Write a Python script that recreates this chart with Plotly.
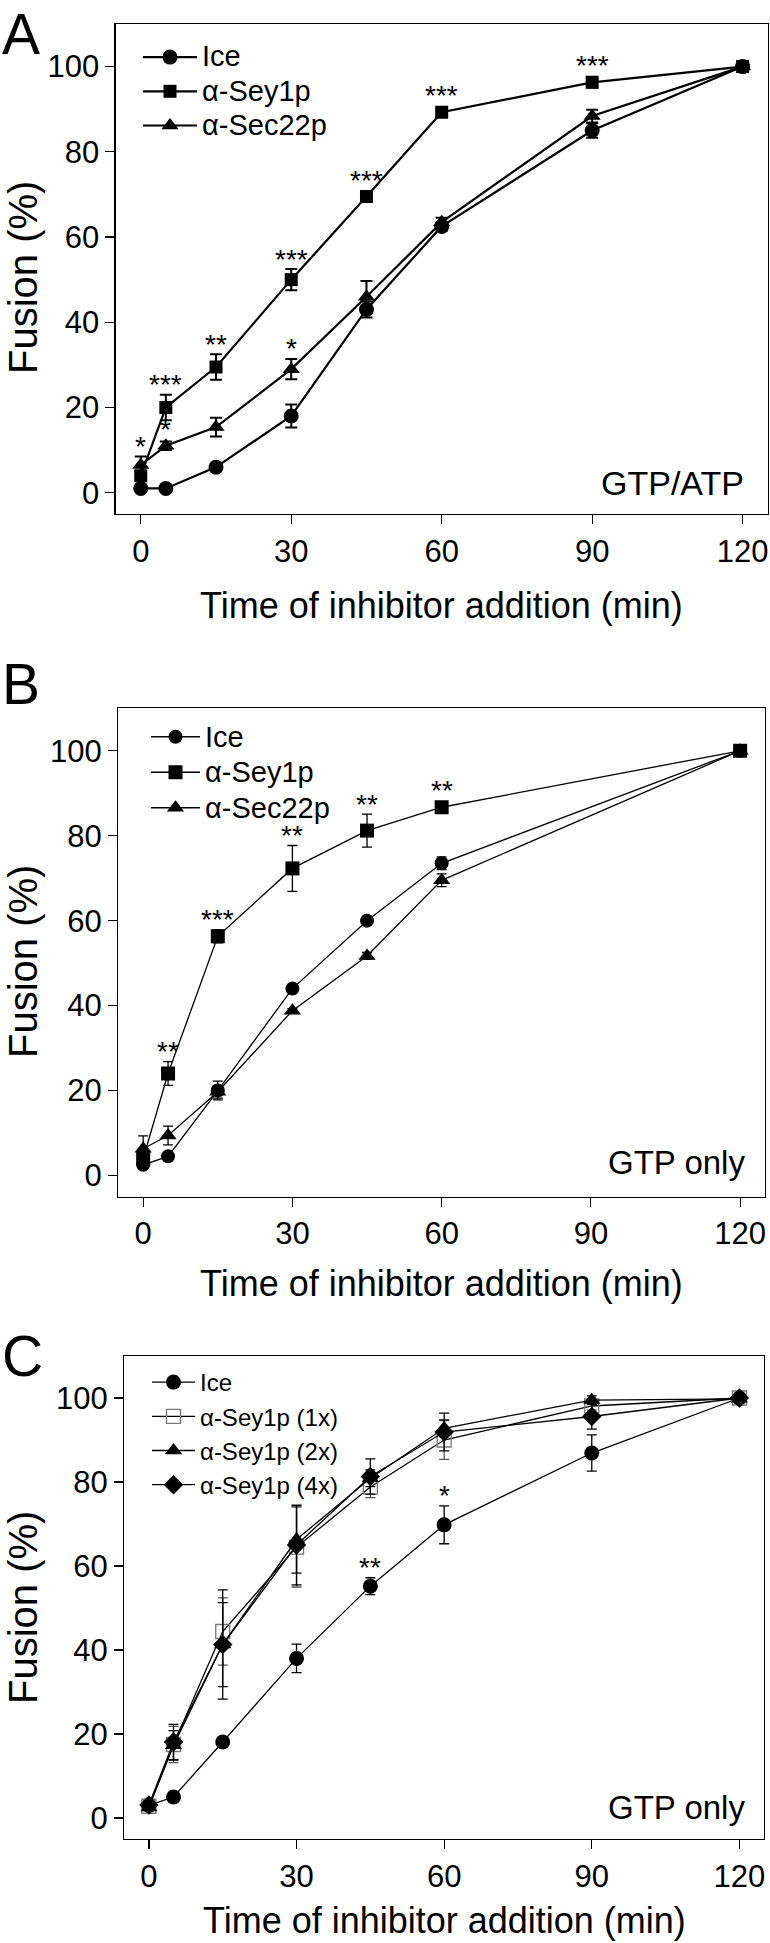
import plotly.graph_objects as go

W, H = 770, 1943
FONT = "Liberation Sans, Arial, Helvetica, sans-serif"

# ---------------- data ----------------
times_a = [0, 5, 15, 30, 45, 60, 90, 120]
a_ice = [1, 1, 6, 18, 43, 62.5, 85, 100]
a_ice_err = [0.5, 0.5, 0.5, 2.7, 1.9, 1.0, 1.7, 0.5]
a_sey = [4, 20, 29.5, 50, 69.5, 89.3, 96.3, 100]
a_sey_err = [1, 3, 3, 2.5, 0.5, 0.5, 1.2, 0.5]
a_sec = [6.5, 11, 15.4, 29, 46, 63.5, 88.4, 100]
a_sec_err = [2, 1, 2.2, 2.4, 3.7, 1, 1.5, 0.5]

times_b = [0, 5, 15, 30, 45, 60, 120]
b_ice = [2.5, 4.5, 20, 44, 60, 73.5, 100]
b_ice_err = [0.5, 0.5, 2.2, 0.5, 0.5, 1.5, 0.5]
b_sey = [4, 24, 56.3, 72.3, 81.2, 86.7, 100]
b_sey_err = [1, 2.8, 1.5, 5.4, 3.9, 0.5, 0.5]
b_sec = [6.3, 9.4, 19.7, 38.8, 51.7, 69.5, 100]
b_sec_err = [3, 2.2, 1.5, 0.5, 0.8, 1.5, 0.5]

times_c = [0, 5, 15, 30, 45, 60, 90, 120]
c_ice = [3, 5, 18.1, 38, 55.2, 69.8, 86.9, 100]
c_ice_err = [0.5, 0.5, 0.5, 3.4, 2, 4.5, 4.3, 0.5]
c_1x = [2.8, 17.5, 44.4, 64.5, 78.8, 90, 98.1, 100]
c_1x_err = [0.5, 4.3, 8, 9.5, 2.5, 4.6, 1, 0.5]
c_2x = [2.5, 17.3, 41.3, 66.3, 80.9, 92.8, 99.5, 99.8]
c_2x_err = [0.5, 3.5, 10, 8, 2, 2, 1, 0.5]
c_4x = [3.1, 18.1, 41.3, 65, 81.3, 91.9, 95.6, 100]
c_4x_err = [0.5, 4.2, 13, 9.5, 4.2, 4.5, 3, 0.5]

x_ticks = [0, 30, 60, 90, 120]
y_ticks = [0, 20, 40, 60, 80, 100]

# significance marks: (series key, index, label)
sig_a = [("sec", 0, "*"), ("sey", 1, "***"), ("sec", 1, "*"), ("sey", 2, "**"),
         ("sey", 3, "***"), ("sec", 3, "*"), ("sey", 4, "***"), ("sey", 5, "***"),
         ("sey", 6, "***")]
sig_b = [("sey", 1, "**"), ("sey", 2, "***"), ("sey", 3, "**"), ("sey", 4, "**"),
         ("sey", 5, "**")]
sig_c = [("ice", 4, "**"), ("ice", 5, "*")]

# ---------------- layout helpers ----------------
def px_x(x):
    return x / W

def px_y(y):
    return 1 - y / H

panels = {
    # name: (left, right, top, bottom) in px
    "A": (115.7, 767.7, 24, 514),
    "B": (118.3, 765.0, 708.3, 1196.7),
    "C": (124.3, 764.0, 1356, 1839),
}

fig = go.Figure()

def big(name, size):
    return '<span style="font-size:%dpx">%s</span>' % (size, name)

def add_series(xref, yref, legend, name, t, v, e, symbol, size, lw, color="black",
               ecolor="black", ethick=1.5, ewidth=6):
    is_open = "open" in symbol
    fig.add_trace(go.Scatter(
        x=t, y=v, name=name, mode="lines+markers",
        xaxis=xref, yaxis=yref, legend=legend,
        line=dict(color="black", width=lw),
        marker=dict(symbol=symbol, size=size, color=color,
                    line=dict(color=color if is_open else "black", width=1.3 if is_open else 0)),
        error_y=dict(type="data", array=e, visible=True, color=ecolor,
                     thickness=ethick, width=ewidth),
    ))

# Panel A
add_series("x", "y", "legend", big("Ice", 29), times_a, a_ice, a_ice_err, "circle", 15, 2.2, ethick=2)
add_series("x", "y", "legend", big("α-Sey1p", 29), times_a, a_sey, a_sey_err, "square", 13, 2.2, ethick=2)
add_series("x", "y", "legend", big("α-Sec22p", 29), times_a, a_sec, a_sec_err, "triangle-up", 15, 2.2, ethick=2)
# Panel B
add_series("x2", "y2", "legend2", big("Ice", 29), times_b, b_ice, b_ice_err, "circle", 14, 1.3, ethick=1.3, ewidth=5)
add_series("x2", "y2", "legend2", big("α-Sey1p", 29), times_b, b_sey, b_sey_err, "square", 14, 1.3, ethick=1.3, ewidth=5)
add_series("x2", "y2", "legend2", big("α-Sec22p", 29), times_b, b_sec, b_sec_err, "triangle-up", 15, 1.3, ethick=1.3, ewidth=5)
# Panel C
add_series("x3", "y3", "legend3", "Ice", times_c, c_ice, c_ice_err, "circle", 15, 1.3, ethick=1.3, ewidth=5)
add_series("x3", "y3", "legend3", "α-Sey1p (1x)", times_c, c_1x, c_1x_err, "square-open", 14, 1.3,
           color="#777777", ecolor="#555555", ethick=1.3, ewidth=5)
add_series("x3", "y3", "legend3", "α-Sey1p (2x)", times_c, c_2x, c_2x_err, "triangle-up", 15, 1.3, ethick=1.3, ewidth=5)
add_series("x3", "y3", "legend3", "α-Sey1p (4x)", times_c, c_4x, c_4x_err, "diamond", 15, 1.3, ethick=1.3, ewidth=5)

axis_common = dict(
    showline=True, linecolor="black", linewidth=1.3, mirror=True,
    ticks="outside", ticklen=9, tickwidth=1.2, tickcolor="black",
    showgrid=False, zeroline=False,
    tickfont=dict(family=FONT, size=31, color="black"),
)

layout_axes = {}
for i, key in enumerate(["A", "B", "C"]):
    l, r, t, b = panels[key]
    sfx = "" if i == 0 else str(i + 1)
    layout_axes["xaxis" + sfx] = dict(axis_common, domain=[px_x(l), px_x(r)], range=[-5, 125],
                                      tickvals=x_ticks, anchor="y" + sfx)
    layout_axes["yaxis" + sfx] = dict(axis_common, domain=[px_y(b), px_y(t)], range=[-5, 110],
                                      tickvals=y_ticks, anchor="x" + sfx)

legend_common = dict(bgcolor="rgba(0,0,0,0)", borderwidth=0, xanchor="left", yanchor="top",
                     tracegroupgap=0)
fig.update_layout(
    width=W, height=H, margin=dict(l=0, r=0, t=0, b=0),
    paper_bgcolor="white", plot_bgcolor="white",
    showlegend=True,
    legend=dict(legend_common, x=px_x(138), y=px_y(35), itemwidth=54,
                font=dict(family=FONT, size=24, color="black")),
    legend2=dict(legend_common, x=px_x(146), y=px_y(714), itemwidth=49,
                 font=dict(family=FONT, size=25, color="black")),
    legend3=dict(legend_common, x=px_x(147), y=px_y(1360), itemwidth=43,
                 font=dict(family=FONT, size=24, color="black")),
    **layout_axes,
)

annotations = []
def ann_px(text, x, y, size, xanchor="center", yanchor="middle", angle=0):
    annotations.append(dict(text=text, x=px_x(x), y=px_y(y), xref="paper", yref="paper",
                            xanchor=xanchor, yanchor=yanchor, showarrow=False, textangle=angle,
                            font=dict(family=FONT, size=size, color="black")))

# panel letters
ann_px("A", 0, 0, 57, xanchor="left", yanchor="top")
ann_px("B", 0, 684, 57, xanchor="left")
ann_px("C", 0, 1356, 57, xanchor="left")
# axis titles
for key, xt_y, yt_y in [("A", 605, 278), ("B", 1283, 962)]:
    l, r, t, b = panels[key]
    ann_px("Time of inhibitor addition (min)", (l + r) / 2, xt_y, 36)
    ann_px("Fusion (%)", 23, yt_y, 40, angle=-90)
lc, rc, tc, bc = panels["C"]
ann_px("Time of inhibitor addition (min)", (lc + rc) / 2, 1943, 36, yanchor="bottom")
ann_px("Fusion (%)", 23, 1608, 40, angle=-90)
# condition labels
ann_px("GTP/ATP", 746, 483, 34, xanchor="right")
ann_px("GTP only", 747, 1162, 33, xanchor="right")
ann_px("GTP only", 747, 1807, 33, xanchor="right")

# significance stars (placed above error bars in data coordinates)
series_map = {
    "A": ("x", "y", times_a, {"ice": (a_ice, a_ice_err), "sey": (a_sey, a_sey_err), "sec": (a_sec, a_sec_err)}, sig_a),
    "B": ("x2", "y2", times_b, {"ice": (b_ice, b_ice_err), "sey": (b_sey, b_sey_err), "sec": (b_sec, b_sec_err)}, sig_b),
    "C": ("x3", "y3", times_c, {"ice": (c_ice, c_ice_err)}, sig_c),
}
for key, (xr, yr, tt, ser, sigs) in series_map.items():
    for sname, idx, lab in sigs:
        vals, errs = ser[sname]
        annotations.append(dict(text=lab, x=tt[idx], y=vals[idx] + max(errs[idx], 1.5),
                                xref=xr, yref=yr, xanchor="center", yanchor="middle",
                                yshift=10, showarrow=False,
                                font=dict(family=FONT, size=28, color="black")))

fig.update_layout(annotations=annotations)
fig.write_html("out.html", config={"displayModeBar": False, "staticPlot": True},
               post_script="document.body.style.margin='0px';document.body.style.padding='0px';")
